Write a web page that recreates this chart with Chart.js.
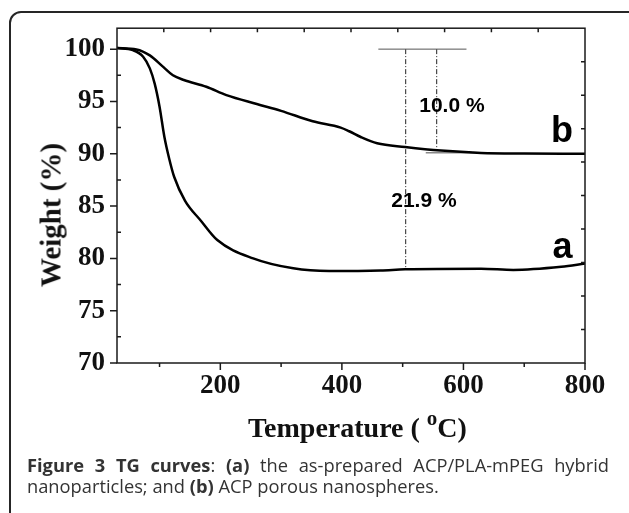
<!DOCTYPE html>
<html>
<head>
<meta charset="utf-8">
<script src="https://cdn.jsdelivr.net/npm/chart.js@4.4.1/dist/chart.umd.min.js"></script>
<style>
  body { margin: 0; background: #fff; width: 629px; height: 513px; overflow: hidden; position: relative; }
  #frame { position: absolute; left: 9px; top: 11px; width: 700px; height: 600px; border: 2px solid #262626; border-radius: 12px; }
  #tg { position: absolute; left: 0; top: 0; }
  .axt { position: absolute; font-family: "Liberation Serif", serif; font-weight: bold; color: #111; white-space: nowrap; }
  #xtitle { left: 248px; top: 414px; font-size: 28px; line-height: 28px; }
  #xtitle span { position: relative; top: -12px; font-size: 21px; }
  #ytitle { left: 51px; top: 215px; font-size: 29px; line-height: 29px; transform: translate(-50%, -50%) rotate(-90deg); }
  #cap { position: absolute; left: 27px; top: 454px; width: 582px; font-family: "Open Sans", sans-serif; font-size: 18.3px; line-height: 21px; color: #333; text-align: justify; }
</style>
</head>
<body>
<div id="frame"></div>
<canvas id="tg" width="629" height="460"></canvas>
<div class="axt" id="xtitle">Temperature ( <span>o</span>C)</div>
<div class="axt" id="ytitle">Weight (%)</div>
<div id="cap"><b>Figure 3 TG curves</b>: <b>(a)</b> the as-prepared ACP/PLA-mPEG hybrid nanoparticles; and <b>(b)</b> ACP porous nanospheres.</div>
<script>
// TG curve a: ACP/PLA-mPEG hybrid nanoparticles
var tempA   = [30, 56, 73, 84, 92, 100, 108, 116, 124, 142, 168, 195, 254, 320, 379, 464, 504, 629, 682, 761, 800];
var weightA = [100.1, 99.9, 99.27, 98.16, 96.7, 94.5, 91.6, 89.5, 87.8, 85.5, 83.6, 81.75, 80.0, 79.05, 78.8, 78.85, 78.95, 79.0, 78.9, 79.2, 79.5];
// TG curve b: ACP porous nanospheres
var tempB   = [30, 62, 84, 106, 122, 140, 177, 210, 260, 300, 352, 398, 412, 431, 458, 504, 563, 629, 700, 800];
var weightB = [100.1, 99.97, 99.4, 98.3, 97.5, 97.05, 96.4, 95.6, 94.75, 94.1, 93.1, 92.5, 92.15, 91.6, 91.0, 90.65, 90.3, 90.08, 90.02, 90.0];
// weight loss marks
var refTempT = [460, 605];  var refTempW = [100, 100];
var dropAT   = [505, 505];  var dropAW   = [100, 79.0];
var dropBT   = [556, 556];  var dropBW   = [100, 90.3];
var baseBT   = [538, 621];  var baseBW   = [90.1, 90.1];
var lossLabels = ['10.0 %', '21.9 %'];
var curveNames = ['a', 'b'];
// tick labels
var xTickLabels = [200, 400, 600, 800];
var yTickLabels = [70, 75, 80, 85, 90, 95, 100];

function pts(xs, ys) {
    return xs.map(function (v, i) { return {x: v, y: ys[i]}; });
}

var frameTicks = {
    id: 'frameTicks',
    afterDraw: function (chart) {
        var ctx = chart.ctx, ca = chart.chartArea, x = chart.scales.x, y = chart.scales.y;
        ctx.save();
        ctx.strokeStyle = '#1a1a1a';
        ctx.lineWidth = 1.5;
        ctx.strokeRect(ca.left, ca.top, ca.right - ca.left, ca.bottom - ca.top);
        ctx.beginPath();
        for (var t = 100; t <= 800; t += 100) {
            var px = x.getPixelForValue(t);
            var len = t % 200 === 0 ? 7 : 4;
            ctx.moveTo(px, ca.bottom); ctx.lineTo(px, ca.bottom + len);
        }
        for (var w = 70; w <= 100; w += 2.5) {
            var py = y.getPixelForValue(w);
            if (w % 5 === 0) { ctx.moveTo(ca.left - 7, py); ctx.lineTo(ca.left, py); }
            else { ctx.moveTo(ca.left, py); ctx.lineTo(ca.left + 4, py); }
        }
        // top and right axes: 10 equal parts, ticks inward
        for (var k = 1; k < 10; k++) {
            var qx = ca.left + (ca.right - ca.left) * k / 10;
            ctx.moveTo(qx, ca.top); ctx.lineTo(qx, ca.top + 4);
            var qy = ca.top + (ca.bottom - ca.top) * k / 10;
            ctx.moveTo(ca.right, qy); ctx.lineTo(ca.right - 4, qy);
        }
        ctx.stroke();
        ctx.restore();
    }
};

var curveText = {
    id: 'curveText',
    afterDatasetsDraw: function (chart) {
        var ctx = chart.ctx, x = chart.scales.x, y = chart.scales.y;
        ctx.save();
        ctx.fillStyle = '#000';
        ctx.textAlign = 'center';
        ctx.textBaseline = 'alphabetic';
        ctx.font = 'bold 21px "Liberation Sans"';
        ctx.fillText(lossLabels[0], x.getPixelForValue(581), y.getPixelForValue(94.0));
        ctx.fillText(lossLabels[1], x.getPixelForValue(535), y.getPixelForValue(84.9));
        ctx.font = 'bold 36px "Liberation Sans"';
        ctx.fillText(curveNames[0], x.getPixelForValue(763), y.getPixelForValue(80.0));
        ctx.fillText(curveNames[1], x.getPixelForValue(762), y.getPixelForValue(91.1));
        ctx.restore();
    }
};

var tickFont = {family: 'Liberation Serif', weight: 'bold', size: 27};

var ctx = document.getElementById('tg').getContext('2d');
var tgChart = new Chart(ctx, {
    type: 'line',
    data: {
        datasets: [
            {data: pts(tempA, weightA), borderColor: '#000', borderWidth: 2.5, pointRadius: 0, cubicInterpolationMode: 'monotone'},
            {data: pts(tempB, weightB), borderColor: '#000', borderWidth: 2.5, pointRadius: 0, cubicInterpolationMode: 'monotone'},
            {data: pts(refTempT, refTempW), borderColor: '#555', borderWidth: 1, pointRadius: 0},
            {data: pts(dropAT, dropAW), borderColor: '#222', borderWidth: 1, borderDash: [5, 2, 1, 2], pointRadius: 0},
            {data: pts(dropBT, dropBW), borderColor: '#222', borderWidth: 1, borderDash: [5, 2, 1, 2], pointRadius: 0},
            {data: pts(baseBT, baseBW), borderColor: '#888', borderWidth: 1.5, pointRadius: 0}
        ]
    },
    options: {
        responsive: false,
        animation: false,
        layout: {padding: {left: 0, top: 27, right: 44, bottom: 0}},
        plugins: {legend: {display: false}, tooltip: {enabled: false}},
        scales: {
            x: {
                type: 'linear', min: 30, max: 800,
                grid: {display: true, drawOnChartArea: false, drawTicks: false},
                border: {display: false},
                ticks: {font: tickFont, color: '#111', padding: 7, maxRotation: 0},
                afterBuildTicks: function (s) { s.ticks = xTickLabels.map(function (v) { return {value: v}; }); },
                afterFit: function (s) { s.height = 97; }
            },
            y: {
                min: 70, max: 102,
                grid: {display: true, drawOnChartArea: false, drawTicks: false},
                border: {display: false},
                ticks: {font: tickFont, color: '#111', padding: 12},
                afterBuildTicks: function (s) { s.ticks = yTickLabels.map(function (v) { return {value: v}; }); },
                afterFit: function (s) { s.width = 117; }
            }
        }
    },
    plugins: [frameTicks, curveText]
});
</script>
</body>
</html>
